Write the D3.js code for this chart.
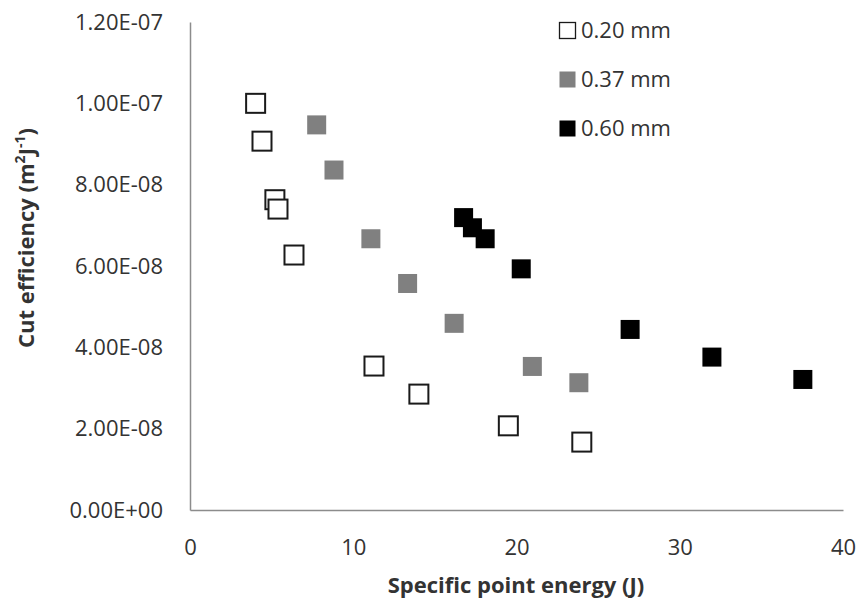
<!DOCTYPE html>
<html>
<head>
<meta charset="utf-8">
<script src="https://cdn.jsdelivr.net/npm/d3@7"></script>
<style>
  body { margin: 0; background: #fff; }
  text { font-family: "Open Sans", sans-serif; fill: #333; }
</style>
</head>
<body>
<div id="chart"></div>
<script>
// data
var seriesNames = ['0.20 mm', '0.37 mm', '0.60 mm'];
var x020 = [4.02, 4.41, 5.2, 5.39, 6.37, 11.27, 14.02, 19.5, 24.0];
var y020 = [1.0e-7, 9.07e-8, 7.63e-8, 7.4e-8, 6.27e-8, 3.54e-8, 2.85e-8, 2.07e-8, 1.67e-8];
var x037 = [7.76, 8.82, 11.08, 13.33, 16.18, 20.97, 23.82];
var y037 = [9.47e-8, 8.36e-8, 6.67e-8, 5.57e-8, 4.59e-8, 3.53e-8, 3.13e-8];
var x060 = [16.76, 17.3, 18.08, 20.29, 26.96, 31.97, 37.54];
var y060 = [7.19e-8, 6.94e-8, 6.67e-8, 5.93e-8, 4.44e-8, 3.76e-8, 3.21e-8];
var xTicks = [0, 10, 20, 30, 40];
var yTicks = [0, 2e-8, 4e-8, 6e-8, 8e-8, 1e-7, 1.2e-7];
var yTickLabels = ['0.00E+00', '2.00E-08', '4.00E-08', '6.00E-08', '8.00E-08', '1.00E-07', '1.20E-07'];

function draw() {
    "use strict";
    var width = 858, height = 603;
    var left = 190, right = 843, top = 22, bottom = 510;

    var svg = d3.select('#chart')
        .append('svg')
        .attr('width', width)
        .attr('height', height);

    var x = d3.scaleLinear().domain([0, 40]).range([left, right]);
    var y = d3.scaleLinear().domain([0, 1.2e-7]).range([bottom, top]);

    //axes
    var xAxis = svg.append('g')
        .attr('transform', 'translate(0,' + bottom + ')')
        .call(d3.axisBottom(x).tickValues(xTicks).tickSize(0).tickPadding(29));
    var yAxis = svg.append('g')
        .attr('transform', 'translate(' + left + ',0)')
        .call(d3.axisLeft(y).tickValues(yTicks).tickSize(0).tickPadding(27)
            .tickFormat(function(d, i) { return yTickLabels[i]; }));

    [xAxis, yAxis].forEach(function(a) {
        a.select('.domain').attr('stroke', '#8c8c8c').attr('stroke-width', 1.5);
        a.selectAll('text')
            .style('font-family', '"Open Sans", sans-serif')
            .style('font-size', '22px')
            .attr('fill', '#333');
    });

    //axis titles
    svg.append('text')
        .attr('x', 516)
        .attr('y', 593)
        .attr('text-anchor', 'middle')
        .style('font-size', '22px')
        .style('font-weight', 'bold')
        .text('Specific point energy (J)');

    var yt = svg.append('text')
        .attr('transform', 'translate(34,238) rotate(-90)')
        .attr('text-anchor', 'middle')
        .style('font-size', '22px')
        .style('font-weight', 'bold');
    yt.append('tspan').text('Cut efficiency (m');
    yt.append('tspan').attr('baseline-shift', 'super').style('font-size', '14px').text('2');
    yt.append('tspan').text('J');
    yt.append('tspan').attr('baseline-shift', 'super').style('font-size', '14px').text('-1');
    yt.append('tspan').text(')');

    //points
    var size = 19;
    function series(xs, ys, fill, stroke) {
        svg.append('g').selectAll('rect')
            .data(xs.map(function(v, i) { return {x: v, y: ys[i]}; }))
            .enter()
            .append('rect')
            .attr('x', function(d) { return x(d.x) - size / 2; })
            .attr('y', function(d) { return y(d.y) - size / 2; })
            .attr('width', size)
            .attr('height', size)
            .attr('fill', fill)
            .attr('stroke', stroke)
            .attr('stroke-width', stroke === 'none' ? 0 : 2);
    }
    series(x020, y020, '#fff', '#1a1a1a');
    series(x037, y037, '#808080', 'none');
    series(x060, y060, '#000', 'none');

    //legend
    var legendFill = [['#fff', '#1a1a1a'], ['#808080', 'none'], ['#000', 'none']];
    var lg = svg.append('g').selectAll('g')
        .data(seriesNames)
        .enter()
        .append('g')
        .attr('transform', function(d, i) { return 'translate(559,' + (30 + i * 49) + ')'; });
    lg.append('rect')
        .attr('x', 0.5).attr('y', -7.5)
        .attr('width', 16).attr('height', 16)
        .attr('fill', function(d, i) { return legendFill[i][0]; })
        .attr('stroke', function(d, i) { return legendFill[i][1]; })
        .attr('stroke-width', 1.3);
    lg.append('text')
        .attr('x', 22)
        .attr('y', 8)
        .style('font-size', '22px')
        .text(function(d) { return d; });
}
draw();
</script>
</body>
</html>
